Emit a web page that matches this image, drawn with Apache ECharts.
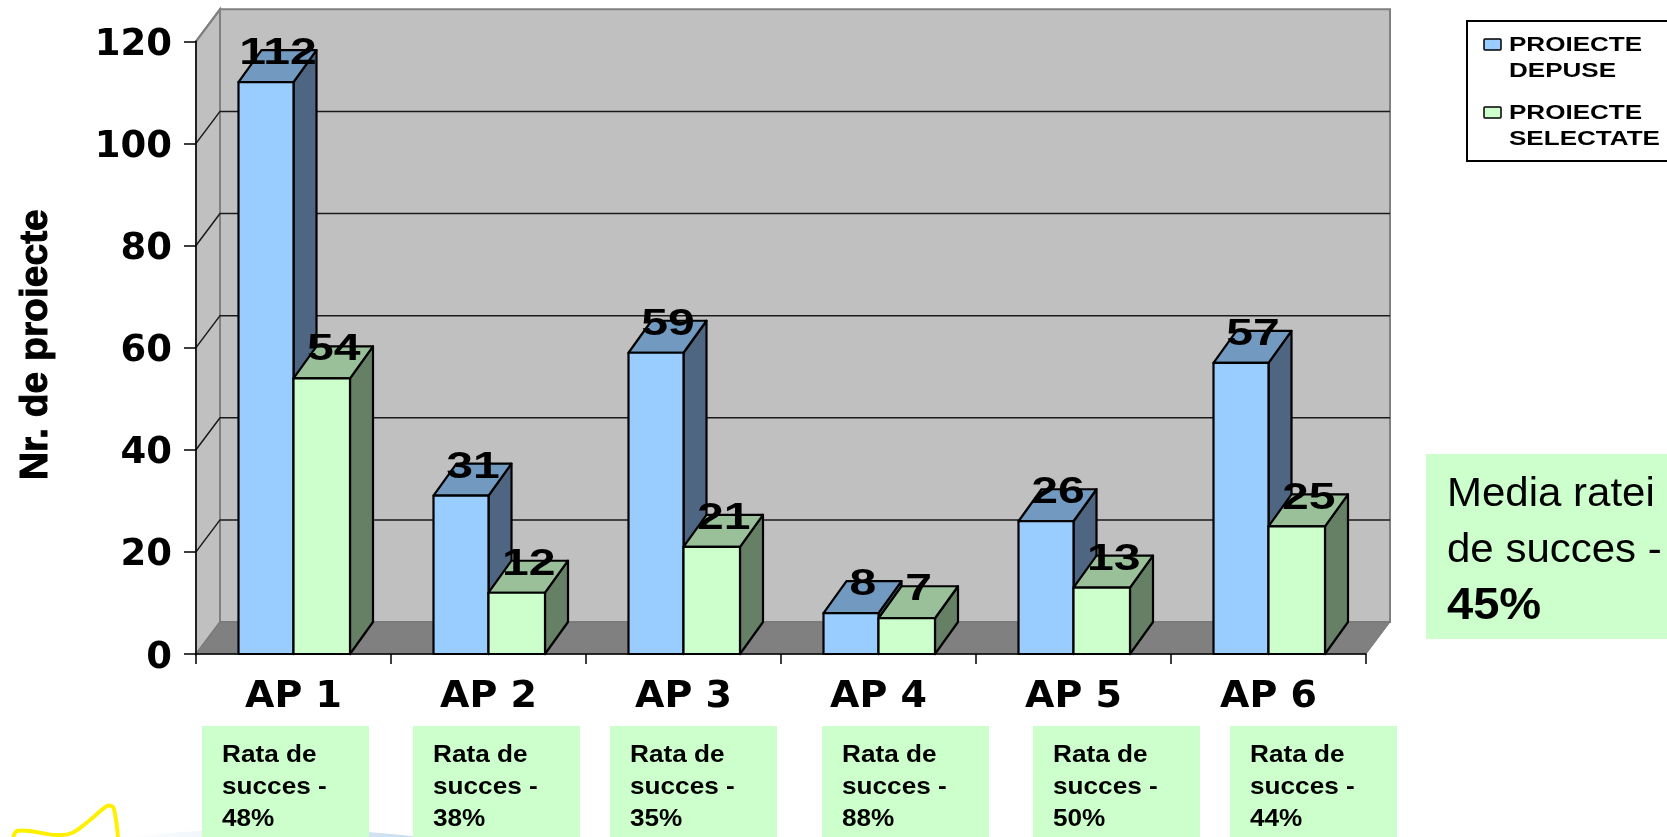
<!DOCTYPE html>
<html>
<head>
<meta charset="utf-8">
<title>Proiecte depuse si selectate</title>
<script src="https://cdn.jsdelivr.net/npm/echarts@6/dist/echarts.min.js"></script>
<style>
html,body{margin:0;padding:0;background:#fff;overflow:hidden}
#chart{width:1667px;height:837px}
</style>
</head>
<body>
<div id="chart"></div>
<script>
// date
var categories = ['AP 1','AP 2','AP 3','AP 4','AP 5','AP 6'];
var depuse = [112,31,59,8,26,57];
var selectate = [54,12,21,7,13,25];
var ratePercent = ['48%','38%','35%','88%','50%','44%'];
var yTicks = [20,40,60,80,100,120];
var legendNames = ['PROIECTE\nDEPUSE','PROIECTE\nSELECTATE'];

var ARIAL = '"Liberation Sans", Arial, sans-serif';
var WIDE = '"DejaVu Sans", sans-serif';
var wallDx = 24, wallDy = 32;   // adancimea peretilor
var barDx = 23, barDy = 32;     // adancimea barelor

var chart = echarts.init(document.getElementById('chart'));

function drawWalls(params, api){
    var c = params.coordSys;
    var x0 = c.x, x1 = c.x + c.width, yTop = c.y, y0 = c.y + c.height;
    var line = {stroke:'#808080', lineWidth:2};
    return {type:'group', children:[
        {type:'polygon', shape:{points:[[x0+wallDx,yTop-wallDy],[x1+wallDx,yTop-wallDy],[x1+wallDx,y0-wallDy],[x0+wallDx,y0-wallDy]]},
            style:Object.assign({fill:'#C0C0C0'}, line)},
        {type:'polygon', shape:{points:[[x0,yTop],[x0+wallDx,yTop-wallDy],[x0+wallDx,y0-wallDy],[x0,y0]]},
            style:Object.assign({fill:'#C0C0C0'}, line)},
        {type:'polygon', shape:{points:[[x0,y0],[x0+wallDx,y0-wallDy],[x1+wallDx,y0-wallDy],[x1,y0]]},
            style:{fill:'#808080', stroke:'#777', lineWidth:1}}
    ]};
}

function drawGridLine(params, api){
    var c = params.coordSys;
    var y = api.coord([0, api.value(1)])[1];
    var isTop = api.value(1) === 120;
    return {type:'polyline', shape:{points: isTop
            ? [[c.x, y],[c.x+wallDx, y-wallDy]]
            : [[c.x, y],[c.x+wallDx, y-wallDy],[c.x+c.width+wallDx, y-wallDy]]},
        style:{fill:'none', stroke: isTop ? '#808080' : '#1a1a1a', lineWidth: isTop ? 2 : 1.5}};
}

// bara 3D: fata, capac, lateral + eticheta
function barRenderer(side, barW, front, top, dark){
    return function(params, api){
        var p = api.coord([api.value(0), api.value(1)]);
        var base = api.coord([api.value(0), 0]);
        var l = side < 0 ? p[0]-barW : p[0];
        var r = l + barW;
        var border = {stroke:'#000', lineWidth:2.2, lineJoin:'round'};
        return {type:'group', children:[
            {type:'polygon', shape:{points:[[r,p[1]],[r+barDx,p[1]-barDy],[r+barDx,base[1]-barDy],[r,base[1]]]},
                style:Object.assign({fill:dark}, border)},
            {type:'polygon', shape:{points:[[l,p[1]],[l+barDx,p[1]-barDy],[r+barDx,p[1]-barDy],[r,p[1]]]},
                style:Object.assign({fill:top}, border)},
            {type:'rect', shape:{x:l,y:p[1],width:barW,height:base[1]-p[1]},
                style:Object.assign({fill:front}, border)},
            {type:'text', x:(l+r)/2+12, y:p[1]-28, scaleX:1.3, z2:50,
                style:{text:String(api.value(1)), fontFamily:ARIAL, fontWeight:'bold', fontSize:37, fill:'#000',
                    align:'center', verticalAlign:'middle'}}
        ]};
    };
}

function pairs(values){
    return values.map(function(v,i){ return [i,v]; });
}

// casetele verzi cu rata de succes
var rateLeft = [202,413,610,822,1033,1230];
var graphics = [
    {type:'ellipse', z:-1, shape:{cx:275,cy:860,rx:215,ry:31},
        style:{fill:new echarts.graphic.LinearGradient(0,0,1,0,[{offset:0,color:'#ffffff'},{offset:0.2,color:'#fafcfe'},{offset:0.5,color:'#e4eef7'},{offset:0.8,color:'#cbdef0'}])}},
    {type:'polyline', z:-1, shape:{smooth:0.3, points:[[13,837],[17,831],[30,831],[55,835],[72,833],[90,820],[107,806],[113,807],[116,820],[118,837]]},
        style:{fill:'none', stroke:'#FFF000', lineWidth:4}}
];
rateLeft.forEach(function(x,i){
    graphics.push({type:'rect', z:1, shape:{x:x,y:726,width:167,height:111}, style:{fill:'#CCFFCC'}});
    graphics.push({type:'text', z:2, x:x+20, y:739, scaleX:1.09,
        style:{text:'Rata de\nsucces -\n'+ratePercent[i], fontFamily:ARIAL, fontWeight:'bold', fontSize:24, lineHeight:32, fill:'#000'}});
});
// caseta cu media
graphics.push({type:'rect', z:1, shape:{x:1426,y:454,width:241,height:185}, style:{fill:'#CCFFCC'}});
graphics.push({type:'text', z:2, x:1447, y:495, scaleX:1.05, style:{text:'Media ratei', fontFamily:ARIAL, fontSize:40, fill:'#000', verticalAlign:'middle'}});
graphics.push({type:'text', z:2, x:1447, y:551, scaleX:1.05, style:{text:'de succes -', fontFamily:ARIAL, fontSize:40, fill:'#000', verticalAlign:'middle'}});
graphics.push({type:'text', z:2, x:1447, y:607, scaleX:1.07, style:{text:'45%', fontFamily:ARIAL, fontWeight:'bold', fontSize:44, fill:'#000', verticalAlign:'middle'}});
// legenda
graphics.push({type:'rect', z:1, shape:{x:1467,y:21,width:215,height:140}, style:{fill:'#fff', stroke:'#000', lineWidth:2}});
[['#99CCFF',39],['#CCFFCC',107]].forEach(function(s,i){
    graphics.push({type:'rect', z:2, shape:{x:1484,y:s[1],width:17,height:11,r:1}, style:{fill:s[0], stroke:'#000', lineWidth:1.5}});
    graphics.push({type:'text', z:2, x:1509, y:s[1]-7, scaleX:1.24,
        style:{text:legendNames[i], fontFamily:ARIAL, fontWeight:'bold', fontSize:21, lineHeight:26, fill:'#000'}});
});

var option = {
    animation:false,
    backgroundColor:'#fff',
    grid:{left:196, right:301, top:41.3, bottom:183, outerBoundsMode:'none'},
    xAxis:{
        type:'category', data:categories, z:10,
        axisLine:{lineStyle:{color:'#000', width:1.5}},
        axisTick:{show:true, length:10, lineStyle:{color:'#000', width:1.5}},
        axisLabel:{fontFamily:WIDE, fontWeight:'bold', fontSize:38, color:'#000', margin:24}
    },
    yAxis:{
        type:'value', min:0, max:120, interval:20, z:10,
        name:'Nr. de proiecte', nameLocation:'middle', nameRotate:90, nameGap:140,
        nameTextStyle:{fontFamily:ARIAL, fontWeight:'bold', fontSize:39, color:'#000', padding:[0,0,0,6],
            textBorderColor:'#000', textBorderWidth:1},
        axisLine:{show:true, lineStyle:{color:'#000', width:1.5}},
        axisTick:{show:true, length:12, lineStyle:{color:'#000', width:1.5}},
        axisLabel:{fontFamily:WIDE, fontWeight:'bold', fontSize:37, color:'#000', margin:24, verticalAlign:'top', lineHeight:8},
        splitLine:{show:false}
    },
    graphic:graphics,
    series:[
        {name:'pereti', type:'custom', data:[[0,0]], renderItem:drawWalls, silent:true, z:1},
        {name:'linii', type:'custom', data:pairs(yTicks), renderItem:drawGridLine, silent:true, z:1},
        {name:'PROIECTE DEPUSE', type:'custom', data:pairs(depuse), z:3,
            renderItem:barRenderer(-1,55,'#99CCFF','#7299C0','#4F6683')},
        {name:'PROIECTE SELECTATE', type:'custom', data:pairs(selectate), z:4,
            renderItem:barRenderer(1,56.5,'#CCFFCC','#99C099','#668066')}
    ]
};
chart.setOption(option);
</script>
</body>
</html>
